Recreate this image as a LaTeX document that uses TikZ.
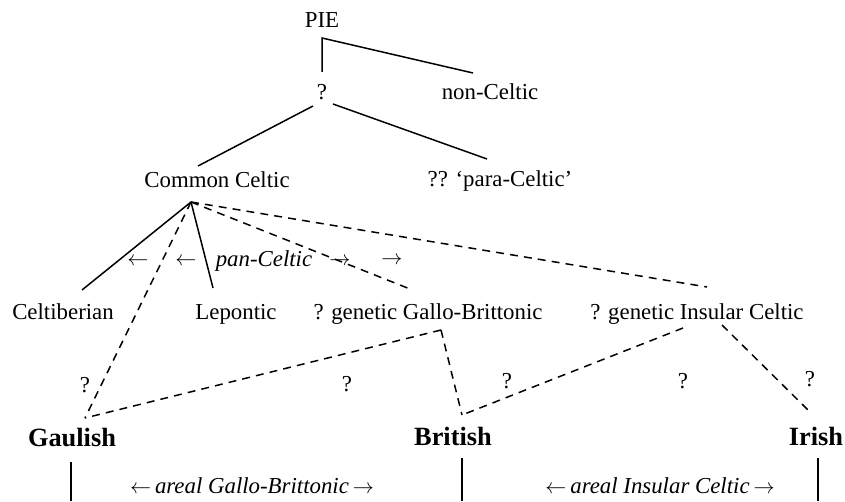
\documentclass[tikz,border=0pt]{standalone}
\usepackage{fontspec}
\setmainfont{Liberation Serif}
\usetikzlibrary{calc}

\begin{document}
\begin{tikzpicture}[
	lbl/.style={anchor=base, inner sep=0pt, font=\fontsize{13}{15}\selectfont},
	lang/.style={anchor=base, inner sep=0pt, font=\fontsize{15}{17}\selectfont\bfseries},
	note/.style={anchor=base, inner sep=0pt, font=\fontsize{13}{15}\selectfont\itshape},
	tree/.style={line width=0.85pt},
	guess/.style={line width=0.85pt, dash pattern=on 4.5pt off 3.5pt}]
			%%%%% START %%%%%
			\useasboundingbox (0, 0) rectangle (16.9, 10.02);
			
			\node[lbl] (pie) at (6.44, 9.46) {PIE};
			\node[lbl] (q) at (6.44, 8.02) {?};
			\node[lbl] (nonceltic) at (9.80, 8.02) {non-Celtic};
			\node[lbl] (common) at (4.34, 6.26) {Common Celtic};
			\node[lbl] (para) at (10.00, 6.28) {?? `para-Celtic'};
			
			\node[lbl] (celtib) at (1.26, 3.62) {Celtiberian};
			\node[lbl] (lepont) at (4.72, 3.62) {Lepontic};
			\node[lbl] (gallobr) at (8.56, 3.62) {? genetic Gallo-Brittonic};
			\node[lbl] (insular) at (13.94, 3.62) {? genetic Insular Celtic};
			
			\node[lang] (gaulish) at (1.44, 1.10) {Gaulish};
			\node[lang] (british) at (9.06, 1.12) {British};
			\node[lang] (irish) at (16.32, 1.12) {Irish};
			
			%% joints
			\coordinate (pie-corner) at (6.44, 9.26);
			\coordinate (q-top) at (6.44, 8.58);
			\coordinate (nc-top) at (9.46, 8.56);
			\coordinate (q-left) at (6.26, 7.90);
			\coordinate (q-right) at (6.66, 7.94);
			\coordinate (cc-top) at (3.96, 6.70);
			\coordinate (para-top) at (9.74, 6.84);
			\coordinate (cc-foot) at (3.82, 5.98);
			\coordinate (celtib-top) at (1.64, 4.22);
			\coordinate (lep-top) at (4.26, 4.26);
			\coordinate (gb-top) at (8.20, 4.24);
			\coordinate (ic-top) at (14.14, 4.28);
			\coordinate (gb-foot) at (8.82, 3.42);
			\coordinate (ic-footl) at (13.66, 3.46);
			\coordinate (ic-footr) at (14.44, 3.52);
			\coordinate (gaul-top) at (1.70, 1.66);
			\coordinate (brit-top) at (9.24, 1.72);
			\coordinate (irish-top) at (16.16, 1.82);
			
			\draw[tree] (q-top) -- (pie-corner) -- (nc-top);
			\draw[tree] (q-left) -- (cc-top);
			\draw[tree] (q-right) -- (para-top);
			
			\draw[tree] (cc-foot) -- (celtib-top);
			\draw[tree] (cc-foot) -- (lep-top);
			\draw[guess] (cc-foot) -- (gaul-top);
			\draw[guess] (cc-foot) -- (gb-top);
			\draw[guess] (cc-foot) -- (ic-top);
			
			\draw[guess] (gb-foot) -- (gaul-top);
			\draw[guess] (gb-foot) -- (brit-top);
			\draw[guess] (ic-footl) -- (brit-top);
			\draw[guess] (ic-footr) -- (irish-top);
			
			%% pan-Celtic arrows
			\node[lbl] (panl1) at (2.76, 4.70) {$\leftarrow$};
			\node[lbl] (panl2) at (3.72, 4.70) {$\leftarrow$};
			\node[note] (pan) at (5.28, 4.68) {pan-Celtic};
			\node[lbl] (panr1) at (6.80, 4.70) {$\rightarrow$};
			\node[lbl] (panr2) at (7.84, 4.72) {$\rightarrow$};
			
			%% question marks
			\node[lbl] (q1) at (1.70, 2.18) {?};
			\node[lbl] (q2) at (6.94, 2.20) {?};
			\node[lbl] (q3) at (10.14, 2.24) {?};
			\node[lbl] (q4) at (13.66, 2.24) {?};
			\node[lbl] (q5) at (16.20, 2.28) {?};
			
			%% areal
			\coordinate (gaul-bar) at (1.42, 0.78);
			\coordinate (brit-bar) at (9.24, 0.86);
			\coordinate (irish-bar) at (16.36, 0.86);
			\draw[tree] (gaul-bar) -- ++(0, -0.78);
			\draw[tree] (brit-bar) -- ++(0, -0.86);
			\draw[tree] (irish-bar) -- ++(0, -0.86);
			\node[note] (areal-gb) at (5.04, 0.16) {$\leftarrow$\,areal Gallo-Brittonic\,$\rightarrow$};
			\node[note] (areal-ic) at (13.20, 0.16) {$\leftarrow$\,areal Insular Celtic\,$\rightarrow$};
			%%%%% END %%%%%
\end{tikzpicture}
\end{document}
